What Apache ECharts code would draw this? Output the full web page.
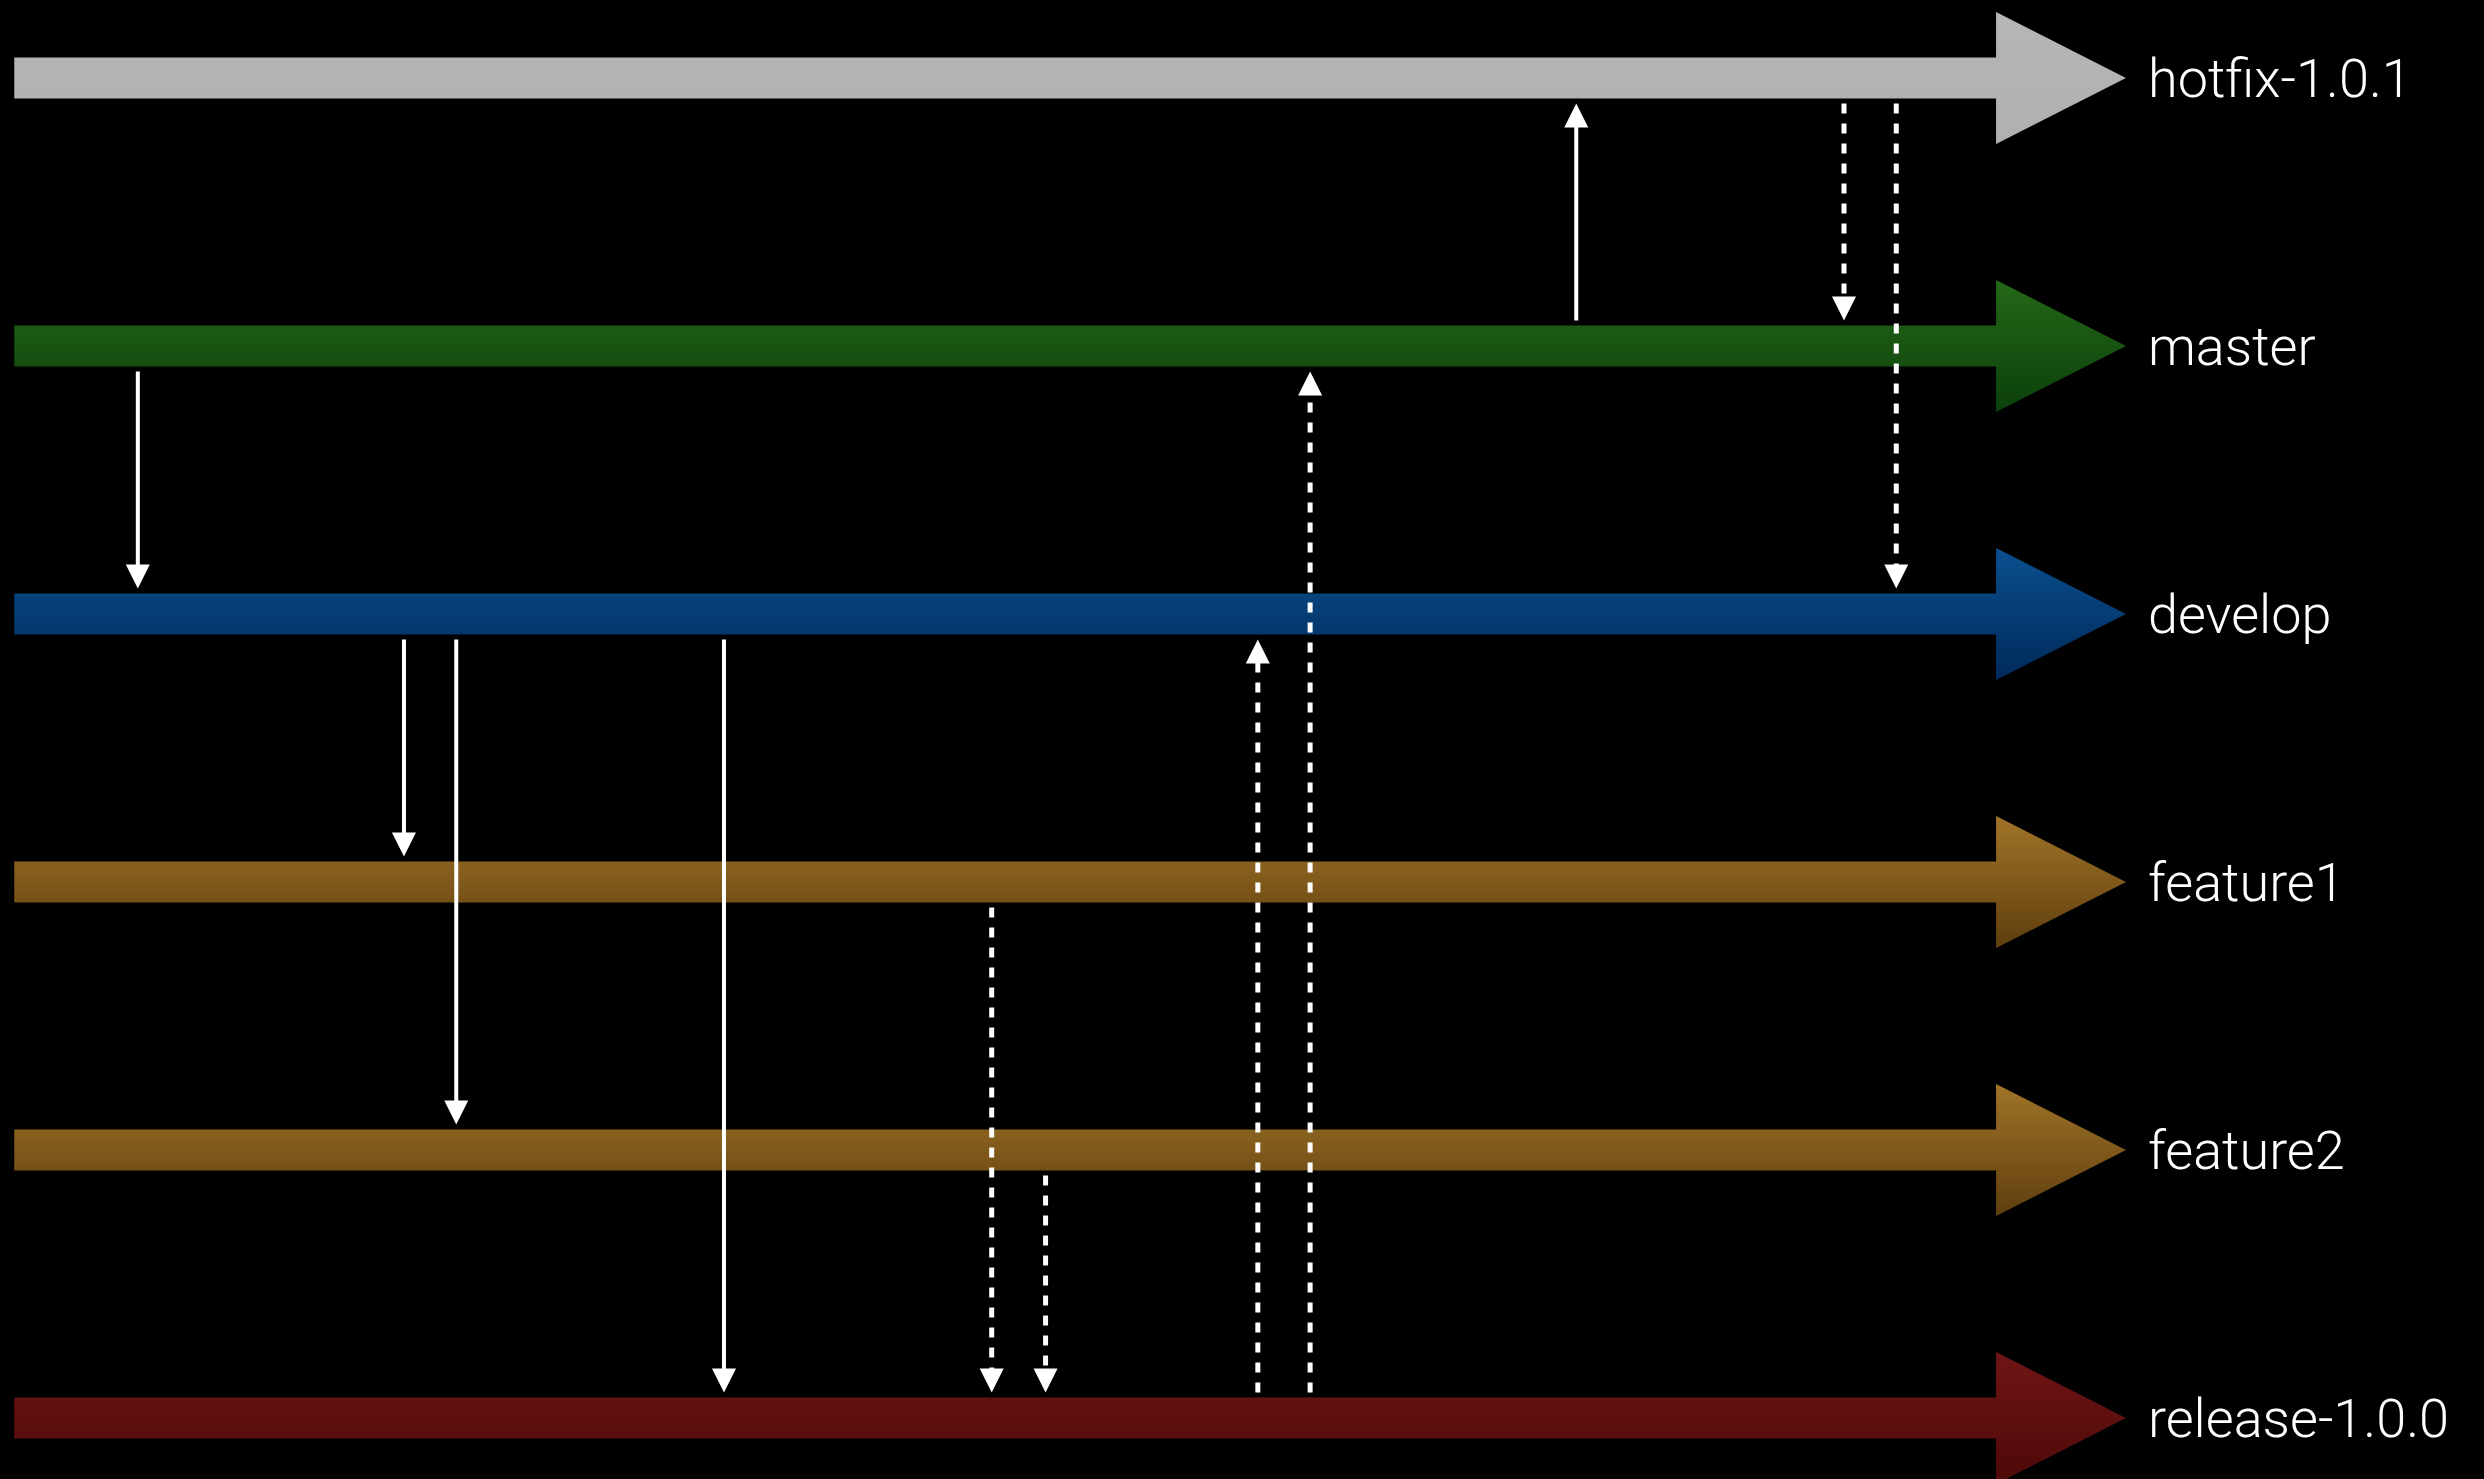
<!DOCTYPE html>
<html><head><meta charset="utf-8">
<script src="https://cdn.jsdelivr.net/npm/echarts@6/dist/echarts.min.js"></script>
<style>html,body{margin:0;padding:0;background:#000;}#c{width:2484px;height:1479px;}</style>
</head><body><div id="c"></div>
<script>
// Branches (top to bottom), x values in picture units (0..1568 across the width)
const branches = ['hotfix-1.0.1', 'master', 'develop', 'feature1', 'feature2', 'release-1.0.0'];
const branchStart = [9, 9, 9, 9, 9, 9];
const branchShaftEnd = [1260, 1260, 1260, 1260, 1260, 1260];
const branchTip = [1342, 1342, 1342, 1342, 1342, 1342];
const branchColorTop = ['#b6b6b6', '#246818', '#0a4f8f', '#a07428', '#a07428', '#701515'];
const branchColorBottom = ['#b0b0b0', '#0c400b', '#002a5a', '#5f3e0e', '#5f3e0e', '#4d0908'];

// Merges / branch-offs (vertical arrows)
const mergeX = [87, 255, 288, 457, 626, 660, 794, 827, 995, 1164, 1197];
const mergeFrom = ['master', 'develop', 'develop', 'develop', 'feature1', 'feature2', 'release-1.0.0', 'release-1.0.0', 'master', 'hotfix-1.0.1', 'hotfix-1.0.1'];
const mergeTo = ['develop', 'feature1', 'feature2', 'release-1.0.0', 'release-1.0.0', 'release-1.0.0', 'develop', 'master', 'hotfix-1.0.1', 'master', 'develop'];
const mergeDashed = [false, false, false, false, true, true, true, true, false, true, true];

const branchData = branches.map((b, i) => [i, branchStart[i], branchShaftEnd[i], branchTip[i]]);
const mergeData = mergeX.map((x, i) => [x, branches.indexOf(mergeFrom[i]), branches.indexOf(mergeTo[i]), mergeDashed[i] ? 1 : 0]);

const SHAFT_HALF = 20.5, HEAD_HALF = 66, GAP = 5, AH_LEN = 24, AH_W = 24;

function renderBranch(params, api) {
  const row = api.value(0);
  const p0 = api.coord([api.value(1), row]);
  const p1 = api.coord([api.value(2), row]);
  const pt = api.coord([api.value(3), row]);
  const cy = p0[1];
  const i = params.dataIndex;
  const pts = [
    [p0[0], cy - SHAFT_HALF], [p1[0], cy - SHAFT_HALF], [p1[0], cy - HEAD_HALF],
    [pt[0], cy], [p1[0], cy + HEAD_HALF], [p1[0], cy + SHAFT_HALF], [p0[0], cy + SHAFT_HALF]
  ];
  return {
    type: 'group',
    children: [
      { type: 'polygon', shape: { points: pts },
        style: { fill: new echarts.graphic.LinearGradient(0, 0, 0, 1, [
          { offset: 0, color: branchColorTop[i] }, { offset: 1, color: branchColorBottom[i] }]) } },
      { type: 'text', x: pt[0] + 22, y: cy + 5,
        style: { text: branches[i], fill: '#ffffff', fontSize: 54, fontWeight: 300,
          fontFamily: 'Roboto, "Open Sans", sans-serif', align: 'left', verticalAlign: 'middle' } }
    ]
  };
}

function renderMerge(params, api) {
  const x = api.value(0);
  const a = api.coord([x, api.value(1)]);
  const b = api.coord([x, api.value(2)]);
  const dashed = api.value(3) === 1;
  const dir = b[1] > a[1] ? 1 : -1;
  const sy = a[1] + dir * (SHAFT_HALF + GAP);
  const ty = b[1] - dir * (SHAFT_HALF + GAP);
  const ly = ty - dir * AH_LEN;
  return {
    type: 'group',
    children: [
      { type: 'line', shape: { x1: a[0], y1: sy, x2: a[0], y2: ly + dir * 1 },
        style: { stroke: '#ffffff', lineWidth: dashed ? 5 : 4, lineDash: dashed ? [10, 10] : null, lineCap: 'butt' } },
      { type: 'polygon', shape: { points: [[a[0] - AH_W / 2, ly], [a[0] + AH_W / 2, ly], [a[0], ty]] },
        style: { fill: '#ffffff' } }
    ]
  };
}

const chart = echarts.init(document.getElementById('c'), null, { renderer: 'canvas' });
chart.setOption({
  backgroundColor: '#000000',
  animation: false,
  grid: { left: 0, right: 0, top: 78, bottom: 61 },
  xAxis: { type: 'value', min: 0, max: 1568, show: false },
  yAxis: { type: 'value', min: 0, max: 5, inverse: true, show: false },
  series: [
    { type: 'custom', renderItem: renderBranch, data: branchData, clip: false,
      encode: { x: [1, 2, 3], y: 0 }, z: 1 },
    { type: 'custom', renderItem: renderMerge, data: mergeData, clip: false,
      encode: { x: 0, y: [1, 2] }, z: 2 }
  ]
});
</script></body></html>
